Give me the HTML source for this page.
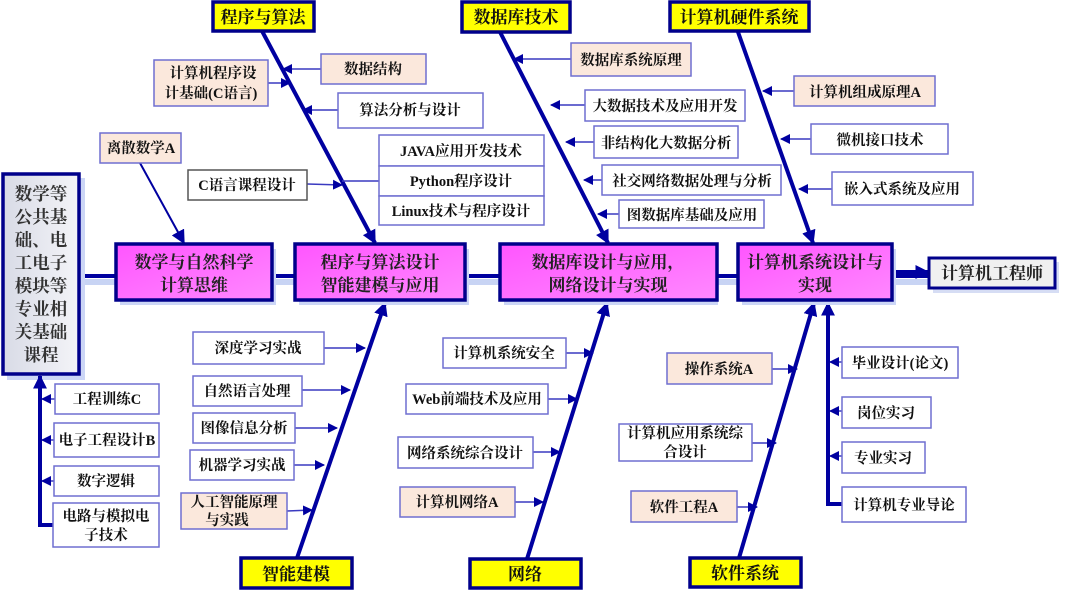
<!DOCTYPE html>
<html><head><meta charset="utf-8"><style>
body{margin:0;background:#fff}
svg text{font-family:"Liberation Serif","Noto Serif CJK SC",serif;font-weight:bold;fill:#111}
.b{fill:#fff;stroke:#6f6fd0;stroke-width:1.5}
.p{fill:#fbe8dc;stroke:#6f6fd0;stroke-width:1.5}
.y{fill:#ffff00;stroke:#00008b;stroke-width:3.5}
.m{fill:#ff66ff;stroke:#00008b;stroke-width:3.5}
.L{stroke:#0000a0;stroke-width:4;fill:none}
.t{stroke:#3a3ac0;stroke-width:1.5;fill:none}
</style></head><body>
<svg width="1080" height="592" viewBox="0 0 1080 592" xmlns="http://www.w3.org/2000/svg">
<defs>
<marker id="a" viewBox="0 0 10 10" refX="9" refY="5" markerWidth="10" markerHeight="10" markerUnits="userSpaceOnUse" orient="auto"><path d="M0,0L10,5L0,10z" fill="#0000a0"/></marker>
<marker id="A" viewBox="0 0 10 10" refX="9" refY="5" markerWidth="14" markerHeight="14" markerUnits="userSpaceOnUse" orient="auto"><path d="M0,0L10,5L0,10z" fill="#0000a0"/></marker>
<linearGradient id="g" x1="0" y1="0" x2="1" y2="1"><stop offset="0" stop-color="#ff55ff"/><stop offset="1" stop-color="#ff88ff"/></linearGradient>
<linearGradient id="gl" x1="0" y1="0" x2="1" y2="0"><stop offset="0" stop-color="#d8dbe6"/><stop offset="1" stop-color="#f4f4f8"/></linearGradient>
</defs>
<line x1="80" y1="282" x2="929" y2="282" stroke="#c8d4f4" stroke-width="6"/>
<line x1="80" y1="276" x2="929" y2="276" class="L"/>
<rect x="7" y="178" width="78" height="202" fill="#ccd6f6"/>
<rect x="3" y="174" width="76" height="200" fill="url(#gl)" stroke="#00008b" stroke-width="3.5"/>
<g font-size="17.5" text-anchor="middle">
<text x="41" y="200" style="fill:#333">数学等</text><text x="41" y="223" style="fill:#333">公共基</text><text x="41" y="246" style="fill:#333">础、电</text><text x="41" y="269" style="fill:#333">工电子</text><text x="41" y="292" style="fill:#333">模块等</text><text x="41" y="315" style="fill:#333">专业相</text><text x="41" y="338" style="fill:#333">关基础</text><text x="41" y="361" style="fill:#333">课程</text></g>
<line x1="262" y1="31" x2="375" y2="243" class="L" marker-end="url(#A)"/>
<line x1="500" y1="32" x2="608" y2="243" class="L" marker-end="url(#A)"/>
<line x1="738" y1="32" x2="813" y2="243" class="L" marker-end="url(#A)"/>
<line x1="297" y1="558" x2="385" y2="303" class="L" marker-end="url(#A)"/>
<line x1="527" y1="559" x2="607" y2="303" class="L" marker-end="url(#A)"/>
<line x1="739" y1="558" x2="814" y2="303" class="L" marker-end="url(#A)"/>
<polyline points="843,504 828,504 828,303" class="L" marker-end="url(#A)"/>
<polyline points="55,525 40,525 40,376" class="L" marker-end="url(#A)"/>
<line x1="140" y1="163" x2="184" y2="243" stroke="#0000a0" stroke-width="2" marker-end="url(#A)"/>
<line x1="892" y1="272" x2="928" y2="272" class="L" marker-end="url(#A)"/>
<g class="t">
<line x1="321" y1="69" x2="283" y2="69" marker-end="url(#a)"/>
<line x1="268" y1="83" x2="290" y2="83" marker-end="url(#a)"/>
<line x1="338" y1="110" x2="303" y2="110" marker-end="url(#a)"/>
<line x1="307" y1="184" x2="342" y2="185" marker-end="url(#a)"/>
<line x1="379" y1="181" x2="342" y2="181"/>
<line x1="571" y1="59" x2="514" y2="59" marker-end="url(#a)"/>
<line x1="585" y1="105" x2="551" y2="105" marker-end="url(#a)"/>
<line x1="594" y1="142" x2="566" y2="142" marker-end="url(#a)"/>
<line x1="602" y1="180" x2="584" y2="180" marker-end="url(#a)"/>
<line x1="619" y1="214" x2="598" y2="214" marker-end="url(#a)"/>
<line x1="794" y1="91" x2="763" y2="91" marker-end="url(#a)"/>
<line x1="811" y1="139" x2="781" y2="139" marker-end="url(#a)"/>
<line x1="832" y1="189" x2="799" y2="189" marker-end="url(#a)"/>
<line x1="324" y1="348" x2="365" y2="348" marker-end="url(#a)"/>
<line x1="302" y1="390" x2="350" y2="390" marker-end="url(#a)"/>
<line x1="295" y1="428" x2="337" y2="428" marker-end="url(#a)"/>
<line x1="294" y1="465" x2="324" y2="465" marker-end="url(#a)"/>
<line x1="287" y1="511" x2="312" y2="510" marker-end="url(#a)"/>
<line x1="566" y1="353" x2="593" y2="353" marker-end="url(#a)"/>
<line x1="548" y1="399" x2="577" y2="399" marker-end="url(#a)"/>
<line x1="533" y1="452" x2="560" y2="452" marker-end="url(#a)"/>
<line x1="515" y1="502" x2="543" y2="502" marker-end="url(#a)"/>
<line x1="772" y1="369" x2="797" y2="369" marker-end="url(#a)"/>
<line x1="752" y1="443" x2="776" y2="443" marker-end="url(#a)"/>
<line x1="737" y1="507" x2="757" y2="507" marker-end="url(#a)"/>
<line x1="842" y1="362" x2="830" y2="362" marker-end="url(#a)"/>
<line x1="842" y1="411" x2="830" y2="411" marker-end="url(#a)"/>
<line x1="842" y1="456" x2="830" y2="456" marker-end="url(#a)"/>
<line x1="55" y1="399" x2="42" y2="399" marker-end="url(#a)"/>
<line x1="54" y1="440" x2="42" y2="440" marker-end="url(#a)"/>
<line x1="54" y1="481" x2="42" y2="481" marker-end="url(#a)"/>
</g>
<g>
<rect x="120" y="249" width="156" height="56" fill="#ccd6f6"/><rect x="116" y="244" width="156" height="56" class="m" style="fill:url(#g)"/>
<rect x="299" y="249" width="170" height="56" fill="#ccd6f6"/><rect x="295" y="244" width="170" height="56" class="m" style="fill:url(#g)"/>
<rect x="504" y="249" width="214" height="56" fill="#ccd6f6"/><rect x="500" y="244" width="217" height="56" class="m" style="fill:url(#g)"/>
<rect x="742" y="249" width="154" height="56" fill="#ccd6f6"/><rect x="738" y="244" width="154" height="56" class="m" style="fill:url(#g)"/>
</g>
<g font-size="17" text-anchor="middle">
<text x="194" y="268" style="fill:#222">数学与自然科学</text><text x="194" y="291" style="fill:#222">计算思维</text>
<text x="380" y="268" style="fill:#222">程序与算法设计</text><text x="380" y="291" style="fill:#222">智能建模与应用</text>
<text x="608" y="268" style="fill:#222">数据库设计与应用，</text><text x="608" y="291" style="fill:#222">网络设计与实现</text>
<text x="815" y="268" style="fill:#222">计算机系统设计与</text><text x="815" y="291" style="fill:#222">实现</text>
</g>
<rect x="933" y="262" width="126" height="31" fill="#d6ddf4"/>
<rect x="929" y="258" width="126" height="30" fill="#f0f0f0" stroke="#00008b" stroke-width="3"/>
<text x="992" y="279" font-size="17" text-anchor="middle" style="fill:#222">计算机工程师</text>
<g>
<rect x="213" y="2" width="101" height="29" class="y"/>
<rect x="462" y="2" width="108" height="30" class="y"/>
<rect x="670" y="2" width="139" height="29" class="y"/>
<rect x="241" y="558" width="111" height="30" class="y"/>
<rect x="470" y="559" width="111" height="29" class="y"/>
<rect x="690" y="558" width="111" height="29" class="y"/>
</g>
<g font-size="17" text-anchor="middle">
<text x="263" y="23">程序与算法</text><text x="516" y="23">数据库技术</text><text x="739" y="23">计算机硬件系统</text>
<text x="296" y="580">智能建模</text><text x="525" y="580">网络</text><text x="745" y="579">软件系统</text>
</g>
<g font-size="14.5" text-anchor="middle">
<rect x="154" y="60" width="114" height="46" class="p"/><text x="213" y="78">计算机程序设</text><text x="211" y="98">计基础(C语言)</text>
<rect x="321" y="54" width="105" height="30" class="p"/><text x="373" y="74">数据结构</text>
<rect x="338" y="93" width="145" height="35" class="b"/><text x="410" y="115">算法分析与设计</text>
<rect x="100" y="133" width="81" height="30" class="p"/><text x="141" y="153">离散数学A</text>
<rect x="188" y="170" width="119" height="30" class="b" style="stroke:#555"/><text x="247" y="190">C语言课程设计</text>
<rect x="379" y="135" width="165" height="31" class="b"/><text x="461" y="156">JAVA应用开发技术</text>
<rect x="379" y="166" width="165" height="30" class="b"/><text x="461" y="186">Python程序设计</text>
<rect x="379" y="196" width="165" height="29" class="b"/><text x="461" y="216">Linux技术与程序设计</text>
<rect x="571" y="43" width="120" height="33" class="p"/><text x="631" y="65">数据库系统原理</text>
<rect x="585" y="90" width="160" height="31" class="b"/><text x="665" y="111">大数据技术及应用开发</text>
<rect x="594" y="126" width="144" height="32" class="b"/><text x="666" y="148">非结构化大数据分析</text>
<rect x="602" y="165" width="179" height="30" class="b"/><text x="692" y="186">社交网络数据处理与分析</text>
<rect x="619" y="200" width="145" height="28" class="b"/><text x="692" y="220">图数据库基础及应用</text>
<rect x="794" y="76" width="141" height="30" class="p"/><text x="865" y="97">计算机组成原理A</text>
<rect x="811" y="124" width="137" height="30" class="b"/><text x="880" y="145">微机接口技术</text>
<rect x="832" y="172" width="141" height="33" class="b"/><text x="902" y="194">嵌入式系统及应用</text>
<rect x="193" y="332" width="131" height="32" class="b"/><text x="258" y="353">深度学习实战</text>
<rect x="193" y="376" width="109" height="30" class="b"/><text x="247" y="396">自然语言处理</text>
<rect x="193" y="413" width="102" height="30" class="b"/><text x="244" y="433">图像信息分析</text>
<rect x="190" y="450" width="104" height="30" class="b"/><text x="242" y="470">机器学习实战</text>
<rect x="181" y="493" width="106" height="36" class="p"/><text x="234" y="507">人工智能原理</text><text x="227" y="525">与实践</text>
<rect x="55" y="384" width="104" height="30" class="b"/><text x="107" y="404">工程训练C</text>
<rect x="54" y="423" width="105" height="34" class="b"/><text x="107" y="445">电子工程设计B</text>
<rect x="54" y="466" width="105" height="30" class="b"/><text x="106" y="486">数字逻辑</text>
<rect x="53" y="503" width="106" height="44" class="b"/><text x="106" y="521">电路与模拟电</text><text x="106" y="540">子技术</text>
<rect x="443" y="338" width="123" height="30" class="b"/><text x="504" y="358">计算机系统安全</text>
<rect x="406" y="384" width="142" height="30" class="b"/><text x="477" y="404">Web前端技术及应用</text>
<rect x="398" y="437" width="135" height="31" class="b"/><text x="465" y="458">网络系统综合设计</text>
<rect x="400" y="487" width="115" height="30" class="p"/><text x="457" y="507">计算机网络A</text>
<rect x="667" y="353" width="105" height="31" class="p"/><text x="719" y="374">操作系统A</text>
<rect x="619" y="424" width="133" height="37" class="b"/><text x="685" y="438">计算机应用系统综</text><text x="685" y="457">合设计</text>
<rect x="631" y="491" width="106" height="31" class="p"/><text x="684" y="512">软件工程A</text>
<rect x="842" y="347" width="116" height="31" class="b"/><text x="900" y="368">毕业设计(论文)</text>
<rect x="842" y="397" width="89" height="31" class="b"/><text x="886" y="418">岗位实习</text>
<rect x="842" y="442" width="83" height="31" class="b"/><text x="883" y="463">专业实习</text>
<rect x="842" y="487" width="124" height="35" class="b"/><text x="904" y="510">计算机专业导论</text>
</g>
</svg>
</body></html>
